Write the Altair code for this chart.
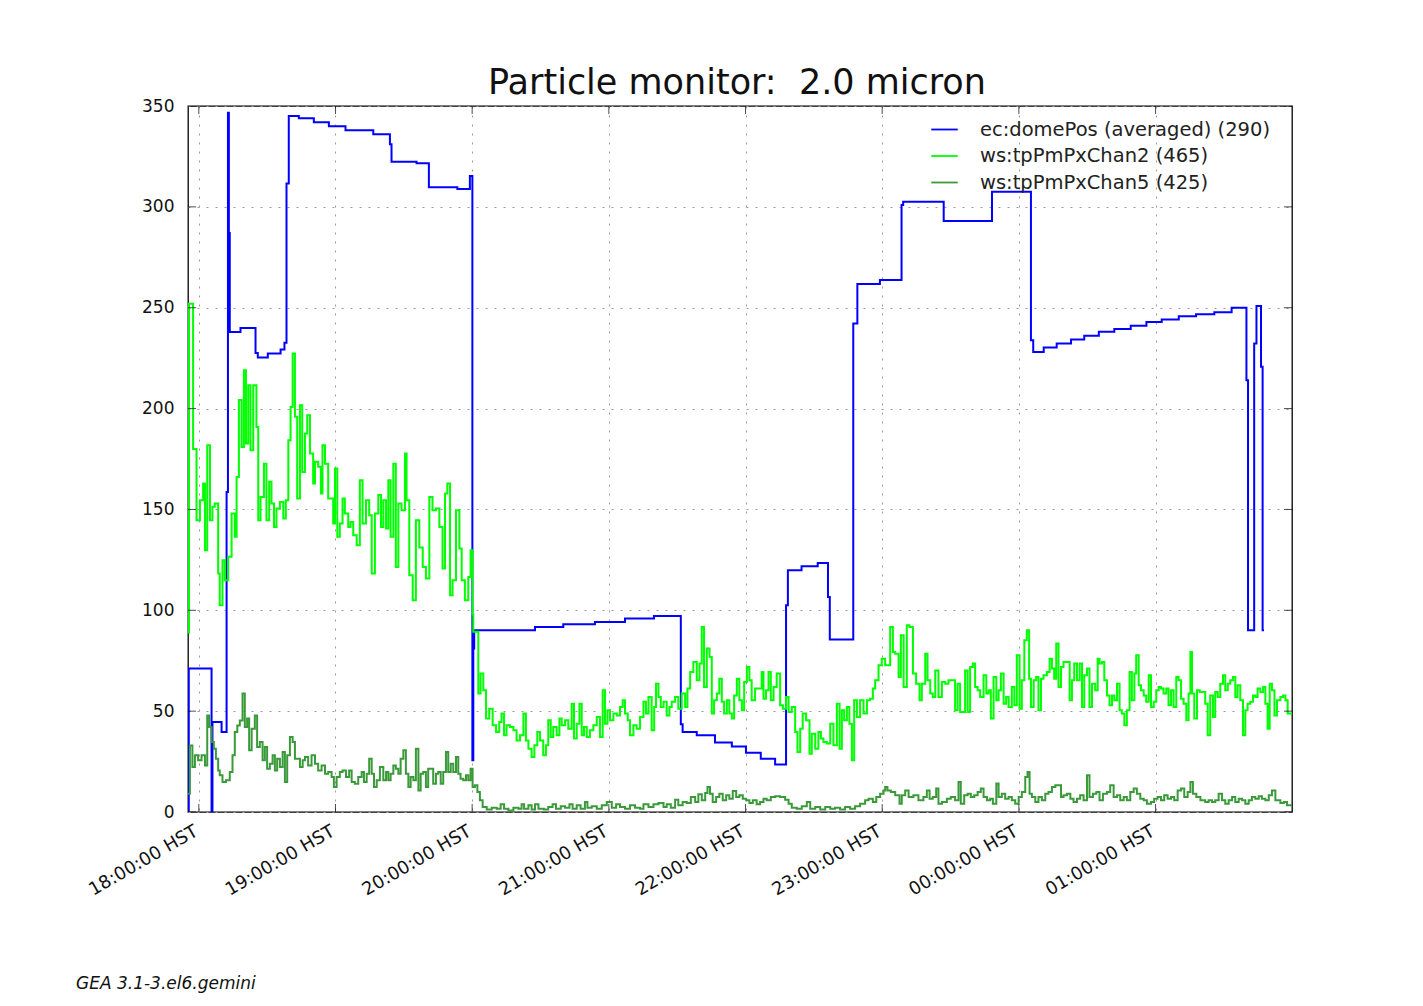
import altair as alt
import pandas as pd

TITLE = "Particle monitor:  2.0 micron"
FOOTER = "GEA 3.1-3.el6.gemini"
SERIES = ["ec:domePos (averaged) (290)", "ws:tpPmPxChan2 (465)", "ws:tpPmPxChan5 (425)"]
COLORS = ["#0000ff", "#00ff00", "#3a9a3a"]
X_TICKS = [0, 60, 120, 180, 240, 300, 360, 420]          # minutes after 18:00 HST
X_LABELS = ["18:00:00 HST", "19:00:00 HST", "20:00:00 HST", "21:00:00 HST",
            "22:00:00 HST", "23:00:00 HST", "00:00:00 HST", "01:00:00 HST"]
Y_TICKS = [0, 50, 100, 150, 200, 250, 300, 350]
X_DOMAIN = [-4.74, 479.9]

# (minutes after 18:00, value) -- step series
dome = [(-4.7, 0), (-4.4, 71.2), (5.6, 0), (6.0, 44.6), (10.0, 39.6), (12.2, 158.7), (12.8, 346.6),
        (13.2, 287), (13.6, 238), (18.3, 240), (24.9, 227.6), (25.9, 225.3), (30.3, 227.3), (35.9, 229.3),
        (37.6, 232.6), (38.5, 311.6), (39.5, 345), (43.9, 343.9), (50.5, 341.9), (57.1, 340), (64.4, 338),
        (76.6, 336), (83.9, 331), (84.6, 322.4), (95.6, 321.6), (101.0, 309.7), (113.5, 308.8), (119.0, 315.3),
        (120.1, 25.6), (120.5, 81), (120.9, 90.1), (147.6, 91.7), (160.0, 93.1), (173.9, 94.2), (187.1, 95.9),
        (199.8, 97.2), (211.6, 43.5), (212.4, 39.6), (218.6, 38), (226.6, 34.4), (234.0, 32.5), (240.2, 29.4),
        (246.7, 26.4), (253.0, 23.6), (257.8, 102.5), (258.6, 119.8), (264.6, 121.8), (271.7, 123.5),
        (276.2, 106.6), (277.0, 85.5), (287.3, 242.2), (289.1, 261.7), (299.0, 263.7), (308.5, 300.9),
        (309.2, 302.5), (327.0, 293), (348.2, 307.5), (365.3, 233.9), (366.3, 228.1), (370.9, 230.3),
        (376.6, 232.3), (382.9, 234.3), (388.7, 236.1), (395.1, 238.1), (401.9, 239.4), (409.1, 241),
        (416.0, 242.9), (422.7, 244.2), (430.2, 245.8), (437.8, 246.8), (445.8, 247.8), (453.4, 250),
        (459.9, 214.1), (460.6, 90.1), (463.3, 232.3), (464.3, 250.8), (466.3, 220.7), (467.0, 90.1),
        (467.6, 90.1)]

chan2 = [(-4.7, 89), (-4.3, 252), (-2.5, 180), (-1.0, 144.6), (0.5, 154.6), (1.9, 162.8), (2.7, 129.8),
         (3.7, 181.8), (4.9, 144.6), (6.0, 151.3), (7.0, 152.9), (8.5, 118.2), (9.2, 102.5), (10.4, 124.8),
         (11.4, 114.9), (12.9, 126.5), (14.4, 148), (15.8, 136.4), (16.6, 166.1), (17.6, 204.2), (18.8, 181),
         (19.8, 219), (20.7, 182.7), (21.7, 211.6), (22.7, 179.4), (23.9, 211.6), (25.3, 190.9), (26.1, 144.6),
         (27.1, 156.2), (28.6, 172.7), (29.7, 144.6), (30.9, 163.7), (31.9, 152.9), (33.0, 141.3), (34.1, 150.4),
         (35.6, 153.7), (37.1, 145.5), (38.2, 154.6), (39.3, 184.3), (40.3, 200.8), (41.2, 227.3), (42.2, 195.9),
         (43.2, 155.4), (44.4, 201.7), (45.4, 168.6), (46.6, 187.6), (47.6, 196.7), (48.8, 177.7), (50.2, 162.8),
         (51.0, 173.6), (52.4, 171.1), (53.6, 157.9), (54.3, 181.8), (55.4, 172.7), (56.8, 155.4), (59.0, 143),
         (59.8, 170.3), (60.8, 136.4), (61.9, 143), (63.1, 155.4), (64.1, 148), (65.6, 141.3), (66.6, 143.8),
         (67.8, 137.2), (69.3, 132.2), (70.7, 164.5), (71.9, 143), (73.4, 154.6), (74.8, 147.1), (75.9, 118.2),
         (77.3, 148), (78.8, 157.1), (80.0, 141.3), (81.0, 154.6), (82.2, 140.5), (83.2, 164.5), (84.2, 136.4),
         (85.4, 172.7), (86.5, 121.5), (87.6, 152.9), (89.0, 149.6), (90.5, 177.7), (91.2, 154.6), (92.4, 117.4),
         (93.9, 105), (95.3, 144.6), (96.8, 131.1), (98.3, 121.5), (99.7, 115.7), (101.2, 156.2), (102.6, 149.6),
         (104.1, 150.4), (105.6, 141.3), (107.0, 120.7), (108.1, 157.9), (109.1, 162.8), (110.3, 107.4),
         (111.4, 114.9), (112.9, 149.6), (114.4, 130.6), (115.4, 114.9), (116.8, 105), (118.3, 116.5),
         (119.3, 129.8), (120.2, 98), (120.5, 89.3), (122.7, 58.7), (123.7, 68.6), (124.9, 60.3), (126.1, 46.3),
         (127.5, 51.2), (129.0, 43), (130.5, 39.7), (131.9, 44.6), (132.9, 48.8), (134.0, 38), (135.1, 43),
         (136.6, 42.2), (138.1, 40.5), (139.5, 35.5), (141.0, 38), (142.5, 48.8), (143.6, 35.5), (144.7, 31.4),
         (146.1, 27.3), (147.3, 33.1), (148.6, 39.7), (149.8, 35.5), (151.2, 28.1), (152.4, 33.1), (153.4, 45.5),
         (154.5, 37.2), (155.6, 42.2), (157.1, 38), (158.3, 46.3), (159.3, 43), (160.8, 45.5), (162.2, 41.3),
         (163.7, 53.7), (164.7, 36.4), (165.9, 43.8), (167.1, 53.7), (168.1, 38), (169.1, 42.2), (170.3, 37.2),
         (171.7, 40.5), (173.2, 43), (174.7, 47.1), (176.1, 37.2), (177.3, 60.3), (178.3, 43.8), (179.4, 50.4),
         (180.5, 45.5), (182.0, 48.8), (183.5, 47.9), (184.9, 52.1), (186.1, 55.4), (187.1, 48.8), (188.3, 45.5),
         (189.3, 38), (190.8, 43), (192.2, 41.3), (193.7, 47.1), (195.2, 54.6), (196.3, 48.8), (197.4, 57.0),
         (198.8, 40.5), (199.9, 52.1), (200.7, 63.6), (201.8, 57.0), (202.8, 52.1), (204.0, 54.6), (205.4, 47.9),
         (206.6, 52.1), (207.6, 54.6), (209.1, 57.0), (210.5, 51.2), (212.0, 58.7), (213.5, 52.1), (214.5, 61.2),
         (215.7, 69.4), (217.1, 74.4), (218.6, 65.3), (219.8, 73.6), (220.8, 91.7), (221.8, 62), (223.0, 81),
         (224.2, 76.9), (225.2, 48.8), (226.2, 55.4), (227.4, 58.7), (228.5, 66.1), (229.6, 54.6), (230.6, 48.8),
         (231.8, 55.4), (232.9, 48.8), (234.0, 46.3), (235.0, 57.8), (236.2, 66.1), (237.3, 55.4), (238.4, 50.4),
         (239.4, 64.5), (240.6, 71.9), (241.7, 65.3), (242.7, 55.4), (244.2, 61.2), (247.1, 69.4), (247.9, 56.2),
         (249.0, 60.3), (250.1, 69.4), (251.1, 55.4), (252.3, 62), (253.7, 68.6), (255.2, 52.9), (256.4, 51.2),
         (257.8, 57.0), (258.9, 49.6), (260.3, 52.1), (261.8, 39.7), (262.8, 29.7), (264.0, 41.3), (265.1, 48.8),
         (266.6, 45.5), (268.1, 28.9), (269.1, 38.8), (270.6, 31.4), (272.0, 39.7), (273.1, 36.4), (274.2, 34.7),
         (275.7, 33.9), (277.2, 43.8), (278.6, 33.1), (280.1, 53.7), (281.3, 31.4), (282.3, 50.4), (283.3, 45.5),
         (284.5, 52.1), (285.6, 43.8), (286.7, 25.6), (287.7, 55.4), (288.9, 47.1), (290.3, 55.4), (291.8, 48.8),
         (293.3, 55.4), (294.7, 56.2), (295.9, 61.2), (296.9, 65.3), (298.4, 72.7), (299.8, 76.0), (301.3, 72.7),
         (303.5, 91.7), (304.7, 79.3), (305.7, 78.5), (307.2, 66.9), (308.2, 87.6), (309.4, 62), (310.8, 92.6),
         (312.0, 91.7), (313.5, 68.6), (314.9, 63.6), (316.4, 55.4), (317.4, 63.6), (318.9, 78.5), (319.9, 65.3),
         (321.1, 58.7), (322.2, 57.0), (323.3, 70.2), (324.7, 57.0), (326.2, 64.5), (327.7, 63.6), (329.1, 65.3),
         (332.0, 50.4), (333.1, 63.6), (334.2, 49.6), (336.4, 70.2), (337.5, 49.6), (338.6, 71.9), (339.8, 73.6),
         (340.8, 62), (341.9, 60.3), (343.0, 57.0), (344.5, 67.8), (345.7, 58.7), (346.7, 60.3), (347.7, 46.3),
         (348.9, 66.9), (350.1, 55.4), (351.1, 60.3), (352.1, 68.6), (353.3, 53.7), (354.4, 57.0), (355.5, 52.1),
         (356.9, 62), (358.0, 52.9), (359.1, 77.7), (360.3, 51.2), (361.3, 65.3), (362.4, 85.1), (363.5, 90.1),
         (364.5, 66.1), (365.3, 52.1), (366.5, 65.3), (367.6, 66.9), (368.6, 50.4), (369.7, 66.1), (370.8, 67.8),
         (372.3, 69.4), (373.5, 76.0), (374.5, 71.1), (375.5, 66.1), (376.4, 83.5), (377.4, 62), (378.5, 71.9),
         (379.6, 74.4), (382.3, 55.4), (383.3, 65.3), (384.3, 73.6), (385.5, 65.3), (386.7, 73.6), (387.7, 52.1),
         (388.7, 67.8), (389.9, 71.1), (391.0, 52.1), (392.1, 63.6), (393.5, 60.3), (394.6, 76.0), (395.4, 73.6),
         (396.5, 74.4), (397.5, 65.3), (398.7, 57.8), (399.8, 52.9), (400.9, 57.8), (401.9, 55.4), (403.1, 63.6),
         (404.2, 50.4), (405.2, 48.8), (406.3, 43), (407.4, 50.4), (408.6, 69.4), (409.6, 55.4), (410.7, 68.6),
         (411.5, 77.7), (412.6, 62.8), (413.6, 60.3), (414.8, 57.8), (415.9, 54.6), (417.0, 67.8), (418.0, 52.1),
         (419.2, 54.6), (420.3, 60.3), (421.4, 62), (422.4, 61.2), (423.5, 58.7), (424.7, 61.2), (425.7, 52.9),
         (426.8, 60.3), (427.9, 52.1), (429.1, 66.9), (430.1, 65.3), (431.2, 56.2), (432.3, 53.7), (433.5, 45.5),
         (434.5, 58.7), (435.3, 79.3), (436.0, 58.7), (437.0, 46.3), (438.2, 60.3), (439.4, 59.5), (441.8, 53.7),
         (442.9, 38), (444.0, 57.8), (445.2, 47.1), (446.2, 59.5), (447.3, 57.0), (448.4, 63.6), (449.6, 67.8),
         (450.6, 60.3), (451.7, 63.6), (452.8, 65.3), (454.0, 66.9), (455.0, 57.0), (456.0, 62.8), (457.2, 55.4),
         (458.4, 38), (459.4, 50.4), (460.4, 53.7), (461.6, 54.6), (462.8, 57.8), (463.8, 57.0), (464.8, 61.2),
         (466.0, 59.5), (467.2, 62), (468.2, 53.7), (469.2, 41.3), (470.1, 63.6), (471.1, 60.3), (472.2, 47.9),
         (473.3, 55.4), (474.8, 57.0), (476.0, 57.8), (477.0, 55.4), (478.0, 48.8), (479.9, 48.8)]

chan5 = [(-4.7, 9.1), (-3.9, 33), (-2.8, 22.3), (-1.7, 28.1), (-0.3, 25.6), (1.2, 28.1), (2.7, 23.1), (3.7, 47.9),
         (4.6, 42.1), (5.6, 34.7), (6.6, 31.4), (7.5, 26.4), (8.5, 20.6), (9.2, 18.2), (10.4, 14.9), (11.9, 15.7),
         (13.6, 19.8), (14.8, 28.1), (15.8, 39.6), (16.9, 42.9), (18.0, 45.4), (19.2, 58.7), (20.2, 42.1),
         (21.2, 46.3), (22.1, 30.6), (23.2, 41.3), (24.6, 47.9), (25.6, 32.2), (26.8, 34.7), (28.0, 25.6),
         (29.0, 32.2), (30.0, 21.5), (31.2, 23.9), (32.4, 28.1), (33.4, 20.6), (34.4, 26.4), (35.6, 22.3),
         (36.8, 29.7), (37.8, 14.9), (38.8, 28.1), (40.0, 37.2), (41.2, 34.7), (42.2, 26.4), (44.4, 22.3),
         (45.6, 25.6), (46.6, 27.3), (48.0, 23.1), (49.5, 28.1), (51.0, 23.9), (52.4, 20.6), (53.9, 23.1),
         (55.4, 19), (56.8, 19.8), (58.3, 17.4), (59.3, 12.4), (60.5, 17.4), (61.9, 19.8), (63.1, 20.6),
         (64.6, 17.4), (66.0, 20.6), (67.1, 14.9), (68.5, 14.0), (70.0, 17.4), (71.5, 19.8), (72.5, 14.9),
         (73.7, 19), (74.8, 26.4), (75.9, 19), (76.9, 12.4), (78.1, 15.7), (79.5, 22.3), (81.0, 15.7), (82.2, 19.8),
         (83.2, 15.7), (84.2, 19), (85.4, 23.1), (86.5, 21.5), (87.6, 19), (88.6, 26.4), (89.8, 30.6), (90.9, 19),
         (92.0, 12.4), (93.0, 17.4), (94.2, 15.7), (95.3, 31.4), (96.4, 10.7), (97.4, 19), (98.5, 19.8),
         (99.7, 12.4), (100.7, 21.5), (102.9, 14.0), (104.1, 19), (105.1, 19.8), (106.2, 14.0), (107.3, 19.8),
         (108.5, 29.7), (109.5, 19.8), (110.6, 23.9), (111.7, 19.8), (112.9, 27.3), (113.9, 19), (114.9, 16.5),
         (116.1, 15.7), (117.3, 18.2), (118.3, 15.7), (119.3, 21.5), (120.2, 12.4), (121.2, 13.2), (122.3, 9.9),
         (123.4, 5.8), (124.6, 2.5), (126.4, 1.2), (128.6, 2.1), (130.8, 1.6), (132.5, 3.8), (134.0, 1.6),
         (135.9, 0.8), (138.1, 2.1), (140.3, 1.6), (141.7, 3.8), (142.8, 1.6), (144.7, 3.3), (146.1, 1.2),
         (147.6, 3.8), (149.1, 1.6), (151.5, 1.2), (153.4, 2.5), (155.3, 3.8), (156.8, 1.6), (158.9, 2.8),
         (160.8, 2.1), (162.7, 3.8), (164.1, 1.6), (165.9, 3.3), (167.6, 1.6), (169.5, 5), (170.6, 2.1),
         (172.5, 2.8), (174.7, 1.6), (176.9, 3.3), (179.1, 5), (181.3, 2.1), (183.2, 3.8), (184.9, 2.5),
         (187.1, 1.6), (189.3, 3.3), (191.5, 2.1), (193.7, 1.6), (195.2, 3.8), (197.4, 2.5), (199.6, 3.8),
         (201.8, 4.5), (204.0, 2.5), (205.4, 3.8), (207.2, 2.1), (209.1, 6.1), (210.5, 3.3), (212.4, 5),
         (214.2, 4.5), (216.0, 7.4), (217.9, 5), (219.3, 8.8), (220.8, 5.8), (222.3, 9.4), (223.3, 12.4),
         (224.4, 9.1), (225.6, 5), (227.1, 7.4), (228.5, 9.1), (230.0, 5.8), (231.5, 8.3), (232.9, 6.6),
         (234.4, 10.4), (235.9, 7.4), (237.3, 8.3), (238.8, 6.6), (240.3, 5.8), (241.7, 4.5), (243.2, 5.8),
         (244.9, 3.8), (246.4, 5), (247.9, 6.6), (249.3, 5.8), (251.1, 7.4), (253.0, 7.8), (255.2, 7.4),
         (257.4, 6.1), (258.9, 4.1), (260.3, 2.1), (262.5, 1.6), (264.7, 2.8), (266.9, 5), (268.4, 1.6),
         (270.6, 2.5), (272.8, 1.2), (275.0, 2.5), (277.2, 1.6), (279.3, 2.1), (281.5, 1.2), (283.7, 2.5),
         (285.9, 1.6), (288.1, 2.8), (290.3, 4.1), (292.5, 5.8), (294.0, 6.6), (295.9, 5), (297.4, 7.4),
         (299.1, 9.1), (300.6, 10.7), (301.3, 12.4), (302.3, 10.7), (303.8, 9.9), (305.7, 8.3), (307.6, 4.1),
         (308.6, 8.3), (310.1, 10.7), (311.6, 7.4), (313.7, 8.3), (315.9, 5.8), (318.1, 7.4), (319.6, 10.7),
         (320.8, 6.6), (322.2, 7.4), (323.7, 11.6), (324.7, 4.1), (326.2, 5), (328.4, 6.6), (330.1, 7.4),
         (332.0, 5.8), (333.5, 14.9), (334.5, 4.1), (336.0, 8.3), (337.5, 9.1), (338.9, 7.4), (340.4, 8.3),
         (341.9, 9.9), (343.3, 11.6), (344.5, 7.4), (346.0, 5.8), (347.4, 6.6), (348.6, 4.1), (350.1, 14.1),
         (351.1, 7.4), (352.5, 9.1), (354.0, 6.6), (355.5, 7.4), (356.9, 5.8), (358.4, 4.1), (359.9, 7.4),
         (361.3, 9.9), (362.8, 17.3), (363.8, 19.8), (364.7, 9.1), (365.7, 7.4), (367.2, 5), (368.6, 7.4),
         (370.1, 5.8), (371.6, 9.1), (373.0, 9.9), (374.5, 12.4), (376.0, 13.2), (378.5, 7.4), (379.6, 8.3),
         (381.1, 9.1), (382.6, 6.6), (384.0, 5), (385.5, 6.6), (386.9, 8.3), (388.4, 5.8), (389.9, 18.2),
         (391.0, 7.4), (392.5, 9.1), (394.0, 9.9), (395.4, 5.8), (396.9, 9.1), (398.7, 9.9), (400.1, 13.2),
         (401.6, 7.4), (403.1, 8.3), (404.5, 5.8), (406.0, 7.4), (407.4, 5.8), (408.9, 9.9), (410.4, 11.6),
         (411.8, 9.1), (413.3, 6.6), (414.8, 5.8), (416.2, 4.1), (418.0, 5), (419.4, 6.6), (420.9, 7.4),
         (422.4, 5.8), (423.8, 8.3), (425.3, 6.6), (426.8, 7.4), (428.2, 5.8), (429.7, 10.7), (431.2, 11.6),
         (432.6, 7.4), (434.1, 9.9), (435.3, 14.9), (436.4, 9.1), (437.9, 7.4), (439.7, 5.8), (441.8, 5),
         (443.3, 5.8), (444.8, 5), (446.2, 5.8), (447.7, 9.1), (449.2, 5.8), (450.6, 4.1), (452.1, 5.8),
         (453.6, 7.4), (455.0, 5), (456.5, 6.6), (458.0, 5.8), (459.4, 4.1), (460.9, 5.8), (462.3, 7.4),
         (463.8, 6.6), (465.3, 7.8), (466.7, 6.6), (468.2, 5.8), (469.7, 8.3), (471.1, 10.7), (472.6, 5.8),
         (474.8, 4.5), (476.3, 5), (477.7, 3.3), (479.9, 3.3)]

rows = []
for name, pts in zip(SERIES, [dome, chan2, chan5]):
    for t, v in pts:
        rows.append({"series": name, "t": t, "v": v})
df = pd.DataFrame(rows)

W, H = 1104, 706
FONT = "DejaVu Sans"

label_expr = "[" + ",".join("'%s'" % s for s in X_LABELS) + "][round(datum.value / 60)]"

x_enc = alt.X("t:Q", scale=alt.Scale(domain=X_DOMAIN, nice=False, zero=False),
              axis=alt.Axis(values=X_TICKS, labelExpr=label_expr, labelAngle=-30, labelAlign="right",
                            labelBaseline="top", labelPadding=10, labelOffset=-7, labelFontSize=18,
                            labelFont=FONT, labelColor="#111", ticks=False, domain=False, grid=True,
                            title=None, gridDash=[2, 7], gridColor="#9a9a9a", gridWidth=1,
                            labelOverlap=False))
y_enc = alt.Y("v:Q", scale=alt.Scale(domain=[0, 350], nice=False),
              axis=alt.Axis(values=Y_TICKS, labelPadding=14, labelFontSize=17, labelFont=FONT,
                            labelColor="#111", ticks=False, domain=False, grid=True, title=None,
                            gridDash=[2, 7], gridColor="#9a9a9a", gridWidth=1))

lines = alt.Chart(df).mark_line(interpolate="step-after", strokeWidth=2, clip=True).encode(
    x=x_enc, y=y_enc,
    color=alt.Color("series:N", scale=alt.Scale(domain=SERIES, range=COLORS),
                    legend=alt.Legend(orient="none", legendX=742, legendY=9, title=None,
                                      symbolType="stroke", symbolSize=700, symbolStrokeWidth=1.8,
                                      labelFontSize=19.5, labelFont=FONT, labelColor="#222",
                                      labelOffset=21, rowPadding=2.5, padding=0, labelLimit=600)),
)

# inward tick marks (matplotlib style)
xt = pd.DataFrame({"t": X_TICKS * 2, "v": [0] * len(X_TICKS) + [350] * len(X_TICKS)})
xticks = alt.Chart(xt).mark_tick(orient="vertical", size=16, thickness=1, color="black", clip=True).encode(
    x="t:Q", y="v:Q")
yt = pd.DataFrame({"v": Y_TICKS})
yticks_l = alt.Chart(yt).mark_tick(orient="horizontal", size=16, thickness=1, color="black", clip=True).encode(
    x=alt.value(0), y="v:Q")
yticks_r = alt.Chart(yt).mark_tick(orient="horizontal", size=16, thickness=1, color="black", clip=True).encode(
    x=alt.value(W), y="v:Q")

# title drawn as text (keeps the double space via a no-break space)
title = alt.Chart(pd.DataFrame({"txt": [TITLE.replace("  ", "\u00a0 ")]})).mark_text(
    align="center", baseline="alphabetic", font=FONT, fontSize=35, color="#111"
).encode(x=alt.value(W / 2 - 3), y=alt.value(-12), text="txt:N")

footer = alt.Chart(pd.DataFrame({"txt": [FOOTER]})).mark_text(
    align="left", baseline="alphabetic", font=FONT, fontSize=17, fontStyle="italic", color="#111"
).encode(x=alt.value(-112), y=alt.value(883), text="txt:N")

chart = alt.layer(lines, xticks, yticks_l, yticks_r, title, footer).properties(
    width=W, height=H,
    background="white",
    padding={"left": 180, "top": 98, "right": 120, "bottom": 192},
    autosize=alt.AutoSizeParams(type="none"),
).configure_view(stroke="black", strokeWidth=1.3)

chart.save("out.html", embed_options={"renderer": "svg", "actions": False})
